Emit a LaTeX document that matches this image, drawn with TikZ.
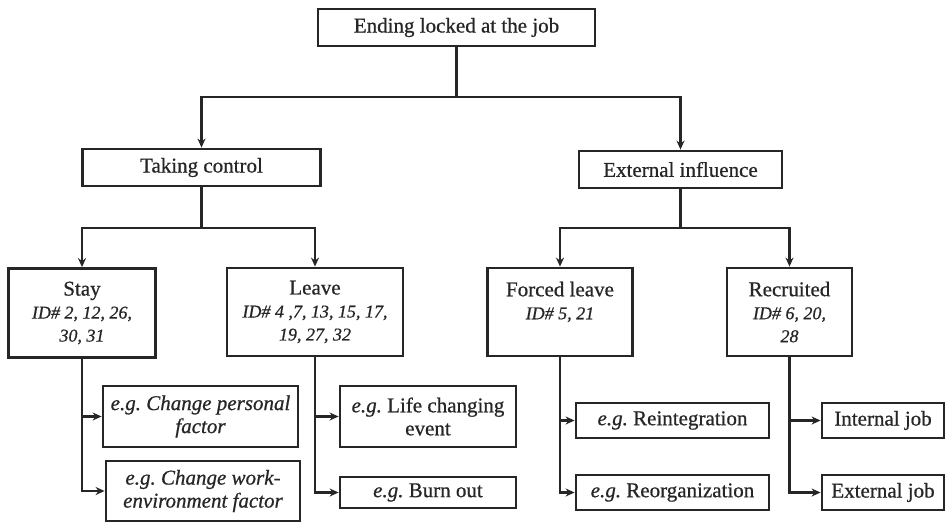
\documentclass[tikz,border=0pt]{standalone}
\usepackage{fontspec}
\setmainfont{Liberation Serif}[FakeBold=0.7]
\newfontfamily\boxfont{Liberation Serif}[FakeBold=0.7,
  UprightFeatures={FakeBold=0.7}, ItalicFeatures={FakeBold=0.7}]
\usetikzlibrary{arrows.meta}
\newcommand{\idline}[1]{{\fontsize{18}{23}\selectfont\itshape #1}}
\begin{document}
\begin{tikzpicture}[x=1pt,y=-1pt,
  box/.style={draw=black!85, line width=2.8pt, align=center, inner sep=2pt,
    font=\boxfont\fontsize{21}{23}\selectfont, text=black!85},
  conn/.style={draw=black!85, line width=2.8pt},
  arr/.style={conn, -{Stealth[length=9pt,width=8pt]}}]
\useasboundingbox (0,0) rectangle (946,523);
% level 0
\node[box, minimum width=277pt, minimum height=37pt] (top) at (456.5,27.5) {Ending locked at the job};
% level 1
\node[box, minimum width=238pt, minimum height=37pt] (tc) at (201.5,167.5) {Taking control};
\node[box, minimum width=203pt, minimum height=37pt] (ei) at (680.5,169.5) {External influence};
% level 2
\node[box, minimum width=147pt, minimum height=89pt] (stay) at (82,313) {Stay\\\idline{ID\# 2, 12, 26,}\\\idline{30, 31}};
\node[box, minimum width=176pt, minimum height=88pt] (leave) at (315,312) {Leave\\\idline{ID\# 4 ,7, 13, 15, 17,}\\\idline{19, 27, 32}};
\node[box, minimum width=145pt, minimum height=88pt] (forced) at (560,312) {Forced leave\\\idline{ID\# 5, 21}\\\mbox{}};
\node[box, minimum width=125pt, minimum height=88pt] (rec) at (789.5,312) {Recruited\\\idline{ID\# 6, 20,}\\\idline{28}};
% level 3
\node[box, minimum width=195pt, minimum height=61pt] (s1) at (200.5,416.5) {\textit{e.g.\ Change personal}\\\textit{factor}};
\node[box, minimum width=194pt, minimum height=60pt] (s2) at (203,491) {\textit{e.g.\ Change work-}\\\textit{environment factor}};
\node[box, minimum width=176pt, minimum height=61pt] (l1) at (428,416.5) {\textit{e.g.}\ Life changing\\event};
\node[box, minimum width=176pt, minimum height=31pt] (l2) at (428,492.5) {\textit{e.g.}\ Burn out};
\node[box, minimum width=193pt, minimum height=35pt] (f1) at (672.5,420.5) {\textit{e.g.}\ Reintegration};
\node[box, minimum width=193pt, minimum height=35pt] (f2) at (672.5,492.5) {\textit{e.g.}\ Reorganization};
\node[box, minimum width=122pt, minimum height=35pt] (r1) at (883,420.5) {Internal job};
\node[box, minimum width=122pt, minimum height=35pt] (r2) at (883,492.5) {External job};
% junctions
\coordinate (j0) at (456.5,97);
\coordinate (j1) at (201.5,228);
\coordinate (j2) at (680.5,228);
% connectors
\draw[conn] (top.south) -- (j0);
\draw[arr] (j0) -| (tc.north);
\draw[arr] (j0) -| (ei.north);
\draw[conn] (tc.south) -- (j1);
\draw[arr] (j1) -| (stay.north);
\draw[arr] (j1) -| (leave.north);
\draw[conn] (ei.south) -- (j2);
\draw[arr] (j2) -| (forced.north);
\draw[arr] (j2) -| (rec.north);
\draw[arr] (stay.south) |- (s1.west);
\draw[arr] (stay.south) |- (s2.west);
\draw[arr] (leave.south) |- (l1.west);
\draw[arr] (leave.south) |- (l2.west);
\draw[arr] (forced.south) |- (f1.west);
\draw[arr] (forced.south) |- (f2.west);
\draw[arr] (rec.south) |- (r1.west);
\draw[arr] (rec.south) |- (r2.west);
\end{tikzpicture}
\end{document}
